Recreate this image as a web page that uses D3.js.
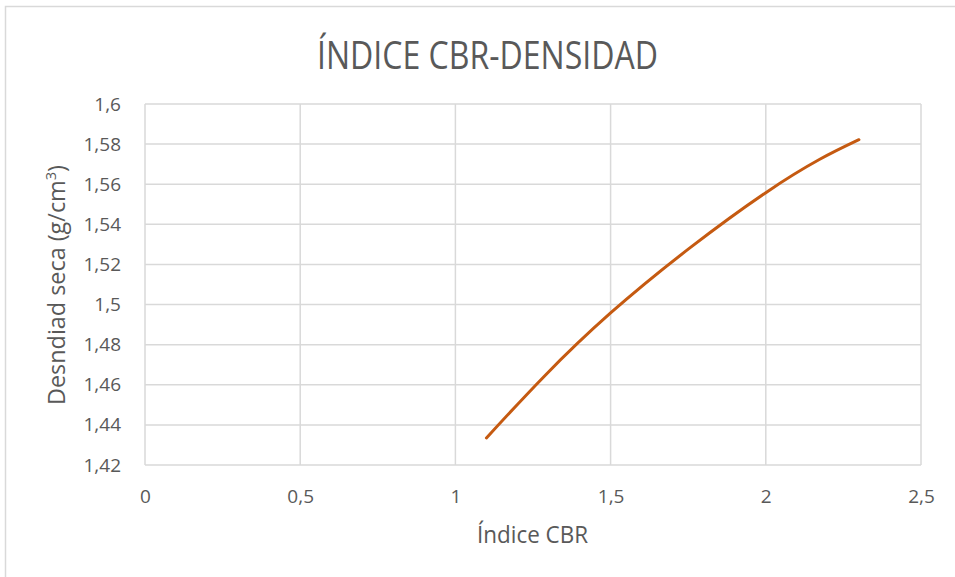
<!DOCTYPE html>
<html>
<head>
<meta charset="utf-8">
<script src="https://cdn.jsdelivr.net/npm/d3@7"></script>
<style>
  html, body { margin: 0; padding: 0; background: #fff; }
  svg { display: block; font-family: "Open Sans", "Noto Sans", sans-serif; }
</style>
</head>
<body>
<div id="chart"></div>
<script>
// values
const cbr = [1.1, 1.5, 2.0, 2.3];
const density = [1.4335, 1.4958, 1.5558, 1.5822];
const xTicks = [0, 0.5, 1, 1.5, 2, 2.5];
const yTicks = [1.42, 1.44, 1.46, 1.48, 1.5, 1.52, 1.54, 1.56, 1.58, 1.6];

const W = 955, H = 577;
const margin = { top: 104, right: 34, bottom: 112, left: 145 };
const width = W - margin.left - margin.right;
const height = H - margin.top - margin.bottom;

const fmt = d => String(d).replace('.', ',');

const svg = d3.select('#chart').append('svg')
  .attr('width', W)
  .attr('height', H);

// outer chart frame
svg.append('rect')
  .attr('x', 5.5).attr('y', 6.5)
  .attr('width', W + 20).attr('height', H + 20)
  .attr('fill', 'none')
  .attr('stroke', '#d9d9d9')
  .attr('stroke-width', 1.5);

const x = d3.scaleLinear().domain([0, 2.5]).range([0, width]);
const y = d3.scaleLinear().domain([1.42, 1.6]).range([height, 0]);

const chart = svg.append('g')
  .attr('transform', `translate(${margin.left},${margin.top})`);

// grid
chart.append('g')
  .selectAll('line')
  .data(yTicks)
  .enter()
  .append('line')
  .attr('x1', 0).attr('x2', width)
  .attr('y1', d => y(d)).attr('y2', d => y(d))
  .attr('stroke', '#d9d9d9').attr('stroke-width', 1.5);

chart.append('g')
  .selectAll('line')
  .data(xTicks)
  .enter()
  .append('line')
  .attr('x1', d => x(d)).attr('x2', d => x(d))
  .attr('y1', 0).attr('y2', height)
  .attr('stroke', '#d9d9d9').attr('stroke-width', 1.5);

// axes (labels only)
const xAxis = d3.axisBottom(x).tickValues(xTicks).tickFormat(fmt).tickSize(0).tickPadding(25);
const yAxis = d3.axisLeft(y).tickValues(yTicks).tickFormat(fmt).tickSize(0).tickPadding(24);

const gx = chart.append('g')
  .attr('transform', `translate(0,${height})`)
  .call(xAxis);
const gy = chart.append('g').call(yAxis);

[gx, gy].forEach(g => {
  g.select('.domain').remove();
  g.selectAll('text')
    .attr('fill', '#595959')
    .style('font-size', '19px')
    .style('font-family', '"Open Sans", sans-serif');
});

// series
const pts = cbr.map((c, i) => [c, density[i]]);
const line = d3.line()
  .x(d => x(d[0]))
  .y(d => y(d[1]))
  .curve(d3.curveNatural);

chart.append('path')
  .datum(pts)
  .attr('d', line)
  .attr('fill', 'none')
  .attr('stroke', '#c55a11')
  .attr('stroke-width', 3)
  .attr('stroke-linecap', 'round');

// title
svg.append('text')
  .attr('x', 487.5).attr('y', 69)
  .attr('text-anchor', 'middle')
  .attr('fill', '#595959')
  .style('font-size', '39px')
  .attr('textLength', 341)
  .attr('lengthAdjust', 'spacingAndGlyphs')
  .text('ÍNDICE CBR-DENSIDAD');

// axis titles
svg.append('text')
  .attr('x', 532.5).attr('y', 543)
  .attr('text-anchor', 'middle')
  .attr('fill', '#595959')
  .style('font-size', '24px')
  .attr('textLength', 111)
  .attr('lengthAdjust', 'spacingAndGlyphs')
  .text('Índice CBR');

const yt = svg.append('text')
  .attr('transform', 'translate(65,285) rotate(-90)')
  .attr('text-anchor', 'middle')
  .attr('fill', '#595959')
  .style('font-size', '24px')
  .attr('textLength', 240)
  .attr('lengthAdjust', 'spacingAndGlyphs');
yt.append('tspan').text('Desndiad seca (g/cm');
yt.append('tspan').attr('dy', -9).style('font-size', '15px').text('3');
yt.append('tspan').attr('dy', 9).text(')');
</script>
</body>
</html>
